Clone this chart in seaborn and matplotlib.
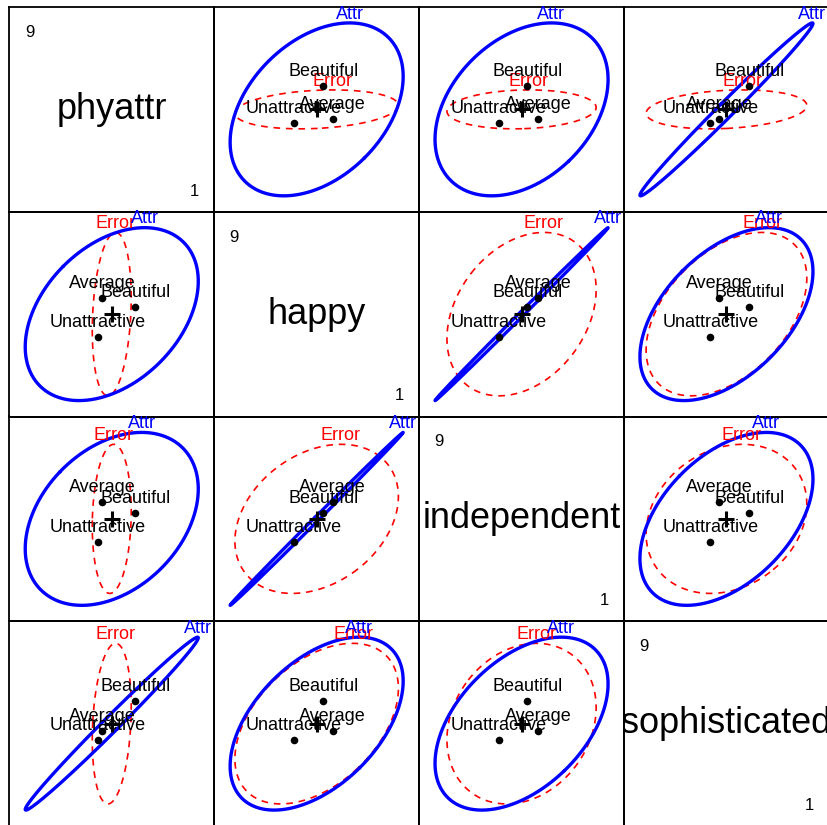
import numpy as np
import matplotlib
matplotlib.use("Agg")
import matplotlib.pyplot as plt
import seaborn as sns

sns.set_theme(style="white")
plt.rcParams['font.family'] = ['Liberation Sans', 'DejaVu Sans']

# MockJury style HE pairs plot: Attr effect on four rating scales
variables = ["phyattr", "happy", "independent", "sophisticated"]
groups = ["Beautiful", "Average", "Unattractive"]

# group means on each rating (order = variables)
mean_beautiful = [5.98, 5.30, 5.68, 6.31]
mean_average = [4.58, 5.70, 6.15, 5.05]
mean_unattractive = [4.41, 4.04, 4.44, 4.67]

# observed data range per variable (shown on the diagonal)
data_min = [1, 1, 1, 1]
data_max = [9, 9, 9, 9]

# residual (Error) standard deviations and correlations
error_sd = [0.545, 2.30, 2.14, 2.24]
error_corr = [[1.00, 0.20, 0.10, 0.20],
              [0.20, 1.00, 0.30, 0.44],
              [0.10, 0.30, 1.00, 0.20],
              [0.20, 0.44, 0.20, 1.00]]

h_radius = 3.0   # evidence scaling of the H ellipse
e_radius = 1.51  # 68% data ellipse for E

M = np.array([mean_beautiful, mean_average, mean_unattractive])
grand = M.mean(axis=0)
D = M - grand
H = D.T @ D
sd = np.array(error_sd)
E = np.outer(sd, sd) * np.array(error_corr)

ext = np.maximum(h_radius * np.sqrt(np.diag(H)), e_radius * np.sqrt(np.diag(E)))
lims = [(grand[k] - 1.184 * ext[k], grand[k] + 1.184 * ext[k]) for k in range(4)]


def ellipse(S, center, radius, n=361):
    vals, vecs = np.linalg.eigh(S)
    L = vecs * np.sqrt(np.clip(vals, 0, None))
    t = np.linspace(0, 2 * np.pi, n)
    pts = L @ np.vstack([np.cos(t), np.sin(t)]) * radius
    return pts[0] + center[0], pts[1] + center[1]


W, Hpx = 828, 825
x0, y0 = 9.3, 7.0
cw, ch = 204.9, 204.75

fig = plt.figure(figsize=(W / 100, Hpx / 100), dpi=100)
fig.patch.set_facecolor("white")

for i in range(4):
    for j in range(4):
        rect = [(x0 + j * cw) / W, 1 - (y0 + (i + 1) * ch) / Hpx, cw / W, ch / Hpx]
        ax = fig.add_axes(rect)
        ax.set_facecolor("none")
        ax.set_xticks([])
        ax.set_yticks([])
        for s in ax.spines.values():
            s.set_color("black")
            s.set_linewidth(1.3)

        if i == j:
            ax.set_xlim(0, 1)
            ax.set_ylim(0, 1)
            t = ax.annotate(variables[i], xy=(0.5, 0.5), xycoords="axes fraction",
                            xytext=(0, -6.8), textcoords="offset points",
                            ha="center", va="baseline", fontsize=26, color="black")
            t.set_clip_on(True)
            t.set_clip_path(ax.patch)
            ax.text(15.5 / cw, 1 - 18 / ch, f"{data_max[i]:g}", transform=ax.transAxes,
                    ha="left", va="top", fontsize=12, color="black")
            ax.text(1 - 15 / cw, 16 / ch, f"{data_min[i]:g}", transform=ax.transAxes,
                    ha="right", va="baseline", fontsize=12, color="black")
            continue

        # x = variable j, y = variable i
        idx = [j, i]
        c = grand[idx]
        ex, ey = ellipse(E[np.ix_(idx, idx)], c, e_radius)
        hx, hy = ellipse(H[np.ix_(idx, idx)], c, h_radius)

        ax.plot(ex, ey, color="red", lw=1.2, linestyle=(0, (4, 3.5)))
        ax.plot(hx, hy, color="blue", lw=2.4)

        for lx, ly, lab, col in [(ex, ey, "Error", "red"), (hx, hy, "Attr", "blue")]:
            k = np.argmax(ly)
            ax.annotate(lab, xy=(lx[k], ly[k]), xytext=(0, 3), textcoords="offset points",
                        ha="center", va="baseline", fontsize=13, color=col,
                        annotation_clip=False)

        sns.scatterplot(x=M[:, j], y=M[:, i], color="black", s=30, linewidth=0,
                        legend=False, ax=ax, zorder=5)
        for g, name in enumerate(groups):
            ax.annotate(name, xy=(M[g, j], M[g, i]), xytext=(0, 7.2),
                        textcoords="offset points", ha="center", va="baseline",
                        fontsize=13, color="black", annotation_clip=False, zorder=6)
        ax.plot(c[0], c[1], marker="+", ms=12, mew=2.2, color="black", zorder=6)

        ax.set_xlim(lims[j])
        ax.set_ylim(lims[i])

fig.savefig("out.png", dpi=100, facecolor="white")
